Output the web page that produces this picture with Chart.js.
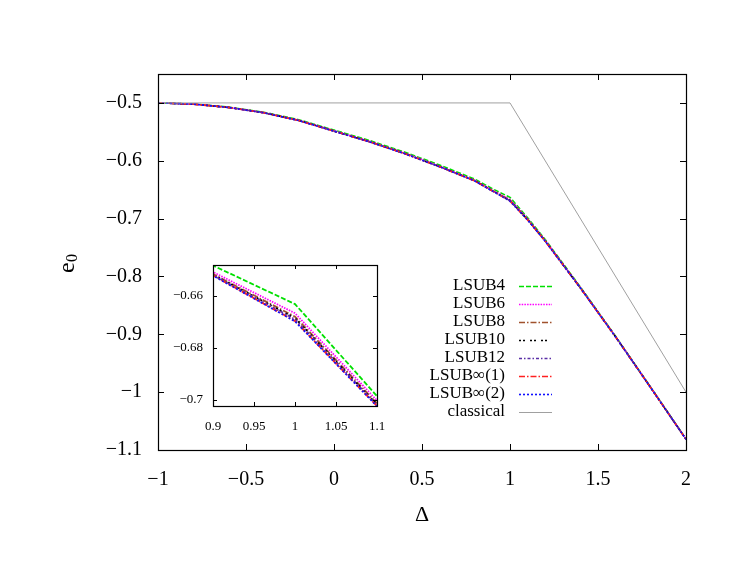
<!DOCTYPE html>
<html>
<head>
<meta charset="utf-8">
<script src="https://cdn.jsdelivr.net/npm/chart.js@4.4.1/dist/chart.umd.min.js"></script>
<style>
  html, body { margin: 0; padding: 0; background: #fff; }
  #wrap { position: relative; width: 747px; height: 578px; }
  #main { position: absolute; left: 0; top: 0; }
  #inset { position: absolute; left: 150px; top: 255px; }
</style>
</head>
<body>
<div id="wrap">
  <canvas id="main" width="747" height="578"></canvas>
  <canvas id="inset" width="240" height="190"></canvas>
</div>
<script>
// ── data (ground-state energy per spin e0 vs anisotropy Δ) ──
const delta   = [-1, -0.8, -0.6, -0.4, -0.2, 0, 0.2, 0.4, 0.6, 0.8, 0.9, 1, 1.1, 1.2, 1.4, 1.6, 1.8, 2];
const lsub4   = [-0.5000, -0.5018, -0.5072, -0.5160, -0.5290, -0.5469, -0.5648, -0.5849, -0.6074, -0.6317, -0.6484, -0.6632, -0.6985, -0.7362, -0.8183, -0.9034, -0.9917, -1.0809];
const lsub6   = [-0.5000, -0.5019, -0.5076, -0.5166, -0.5299, -0.5481, -0.5663, -0.5866, -0.6093, -0.6338, -0.6509, -0.6667, -0.7002, -0.7376, -0.8192, -0.9040, -0.9921, -1.0812];
const lsub8   = [-0.5000, -0.5020, -0.5077, -0.5168, -0.5302, -0.5485, -0.5668, -0.5871, -0.6099, -0.6344, -0.6517, -0.6680, -0.7013, -0.7383, -0.8196, -0.9043, -0.9923, -1.0814];
const lsub10  = [-0.5000, -0.5020, -0.5078, -0.5169, -0.5303, -0.5487, -0.5669, -0.5873, -0.6101, -0.6346, -0.6519, -0.6686, -0.7017, -0.7386, -0.8198, -0.9044, -0.9924, -1.0814];
const lsub12  = [-0.5000, -0.5020, -0.5078, -0.5170, -0.5304, -0.5488, -0.5670, -0.5874, -0.6102, -0.6348, -0.6521, -0.6690, -0.7019, -0.7387, -0.8199, -0.9044, -0.9925, -1.0815];
const lsubInf1 = [-0.5000, -0.5020, -0.5078, -0.5170, -0.5305, -0.5488, -0.5671, -0.5875, -0.6103, -0.6349, -0.6522, -0.6697, -0.7023, -0.7389, -0.8200, -0.9045, -0.9925, -1.0815];
const lsubInf2 = [-0.5000, -0.5020, -0.5078, -0.5170, -0.5305, -0.5489, -0.5672, -0.5876, -0.6104, -0.6350, -0.6523, -0.6698, -0.7024, -0.7390, -0.8200, -0.9045, -0.9925, -1.0815];
const deltaClassical = [-1, 1, 2];
const eClassical     = [-0.5, -0.5, -1.0];

const mainXTicks  = [-1, -0.5, 0, 0.5, 1, 1.5, 2];
const mainYTicks  = [-1.1, -1, -0.9, -0.8, -0.7, -0.6, -0.5];
const insetXTicks = [0.9, 0.95, 1, 1.05, 1.1];
const insetYTicks = [-0.7, -0.68, -0.66];

// ── styles per series ──
const series = [
  { label: 'LSUB4',    data: lsub4,    color: '#00e000', dash: [5, 2] },
  { label: 'LSUB6',    data: lsub6,    color: '#ff00ff', dash: [1.5, 1.2] },
  { label: 'LSUB8',    data: lsub8,    color: '#a0522d', dash: [6, 2, 1.5, 2] },
  { label: 'LSUB10',   data: lsub10,   color: '#000000', dash: [2, 2, 2, 5] },
  { label: 'LSUB12',   data: lsub12,   color: '#5a2ea6', dash: [3, 2, 1.5, 2] },
  { label: 'LSUB∞(1)', data: lsubInf1, color: '#ff2020', dash: [6, 2, 1.5, 2] },
  { label: 'LSUB∞(2)', data: lsubInf2, color: '#1010ff', dash: [2, 2] },
];
const classical = { label: 'classical', color: '#a0a0a0', dash: [] };

const SERIF = '"Liberation Serif", "DejaVu Serif", serif';
const fmt = v => (v < 0 ? '\u2212' : '') + Math.abs(v);

function buildDatasets(width) {
  const ds = series.map((s, i) => ({
    label: s.label,
    data: delta.map((d, k) => ({ x: d, y: s.data[k] })),
    borderColor: s.color,
    borderDash: s.dash,
    borderWidth: width,
    pointRadius: 0,
    tension: 0,
    fill: false,
    order: series.length - i,
  }));
  ds.push({
    label: classical.label,
    data: deltaClassical.map((d, k) => ({ x: d, y: eClassical[k] })),
    borderColor: classical.color,
    borderWidth: 1,
    pointRadius: 0,
    tension: 0,
    fill: false,
    order: 0,
  });
  return ds;
}

// frame + inward ticks on all four sides (gnuplot look)
function framePlugin(tickLen, xTicks, yTicks) {
  return {
    id: 'frame',
    afterDatasetsDraw(chart) {
      const { ctx, chartArea: a, scales: { x, y } } = chart;
      ctx.save();
      ctx.setLineDash([]);
      ctx.strokeStyle = '#000';
      ctx.lineWidth = 1;
      ctx.beginPath();
      xTicks.forEach(v => {
        const px = Math.round(x.getPixelForValue(v)) + 0.5;
        ctx.moveTo(px, a.bottom); ctx.lineTo(px, a.bottom - tickLen);
        ctx.moveTo(px, a.top);    ctx.lineTo(px, a.top + tickLen);
      });
      yTicks.forEach(v => {
        const py = Math.round(y.getPixelForValue(v)) + 0.5;
        ctx.moveTo(a.left, py);  ctx.lineTo(a.left + tickLen, py);
        ctx.moveTo(a.right, py); ctx.lineTo(a.right - tickLen, py);
      });
      ctx.stroke();
      ctx.lineWidth = 1.2;
      ctx.strokeRect(Math.round(a.left) + 0.5, Math.round(a.top) + 0.5,
                     Math.round(a.right - a.left), Math.round(a.bottom - a.top));
      ctx.restore();
    }
  };
}

// legend and axis titles for the main plot
const annotations = {
  id: 'annotations',
  afterDraw(chart) {
    const ctx = chart.ctx;
    ctx.save();
    // legend
    const rows = series.concat([classical]);
    ctx.font = '17px ' + SERIF;
    ctx.textAlign = 'right';
    ctx.textBaseline = 'middle';
    rows.forEach((r, i) => {
      const yy = 286 + i * 18;
      ctx.fillStyle = '#000';
      ctx.fillText(r.label, 505, yy);
      ctx.beginPath();
      ctx.strokeStyle = r.color;
      ctx.lineWidth = r === classical ? 1 : 1.6;
      ctx.setLineDash(r.dash);
      ctx.moveTo(519, yy + 0.5);
      ctx.lineTo(552, yy + 0.5);
      ctx.stroke();
    });
    ctx.setLineDash([]);
    // x title
    ctx.fillStyle = '#000';
    ctx.textAlign = 'center';
    ctx.font = '22px ' + SERIF;
    ctx.fillText('Δ', 422, 515);
    // y title, rotated
    ctx.translate(68, 264);
    ctx.rotate(-Math.PI / 2);
    ctx.textAlign = 'left';
    ctx.font = '24px ' + SERIF;
    ctx.fillText('e', -9, 0);
    ctx.font = '16px ' + SERIF;
    ctx.fillText('0', 2, 5);
    ctx.restore();
  }
};

function axisOpts(min, max, ticks, fontSize, pad, fitSize, isY) {
  return {
    type: 'linear',
    min, max,
    grid: { display: false, drawTicks: false },
    border: { display: false },
    afterBuildTicks: s => { s.ticks = ticks.map(v => ({ value: v })); },
    afterFit: s => {
      if (isY) s.width = fitSize; else s.height = fitSize;
      // keep the plot box exactly where the layout padding puts it
      s.paddingTop = s.paddingBottom = s.paddingLeft = s.paddingRight = 0;
    },
    ticks: {
      autoSkip: false,
      maxRotation: 0,
      padding: pad,
      color: '#000',
      font: { family: SERIF, size: fontSize },
      callback: v => fmt(v),
    }
  };
}

const commonOpts = {
  responsive: false,
  animation: false,
  devicePixelRatio: 1,
  plugins: { legend: { display: false }, tooltip: { enabled: false } },
};

// ── main chart ──
new Chart(document.getElementById('main'), {
  type: 'line',
  data: { datasets: buildDatasets(1.6) },
  options: {
    ...commonOpts,
    layout: { padding: { left: 0, right: 61, top: 74, bottom: 0 } },
    scales: {
      x: axisOpts(-1, 2, mainXTicks, 20, 18, 128, false),
      y: axisOpts(-1.1, -0.45, mainYTicks, 20, 16, 158, true),
    }
  },
  plugins: [framePlugin(6, mainXTicks, mainYTicks), annotations]
});

// ── inset ──
new Chart(document.getElementById('inset'), {
  type: 'line',
  data: { datasets: buildDatasets(1.8) },
  options: {
    ...commonOpts,
    layout: { padding: { left: 0, right: 13, top: 10, bottom: 0 } },
    scales: {
      x: axisOpts(0.9, 1.1, insetXTicks, 13, 13, 39, false),
      y: axisOpts(-0.7023, -0.6482, insetYTicks, 13, 10, 63, true),
    }
  },
  plugins: [framePlugin(4, insetXTicks, insetYTicks)]
});
</script>
</body>
</html>
